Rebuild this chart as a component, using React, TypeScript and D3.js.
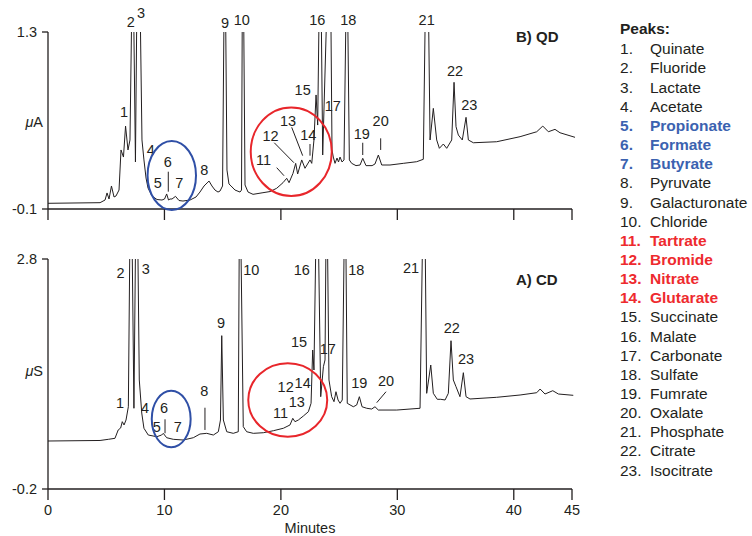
import React from 'react';
import * as d3 from 'd3';

const W = 752;
const H = 536;
const FONT = '"Liberation Sans", Arial, Helvetica, sans-serif';
const INK = '#231f20';
const BLUE = '#3b62b0';
const RED = '#ee2a2e';
const RING_BLUE = '#2f4fa6';
const RING_RED = '#e8262b';

const xTicks = [0, 10, 20, 30, 40, 45];

// B) QD trace: [minutes, µA]  (values above 1.3 run off the top)
const qdTrace: [number, number][] = [
  [0, -0.055], [4.47, -0.05], [4.9, -0.029], [5.07, 0.027], [5.24, -0.021], [5.45, 0.082],
  [5.67, -0.005], [5.84, 0.003], [6.1, 0.05], [6.27, 0.367], [6.48, 0.311], [6.66, 0.556],
  [6.87, 0.367], [7.04, 0.446], [7.21, 1.6], [7.34, 1.6], [7.51, 0.272], [7.64, 1.6],
  [7.9, 1.6], [8.07, 0.446], [8.24, 0.288], [8.42, 0.145], [8.59, 0.066], [8.93, 0.003],
  [9.36, -0.025], [9.79, -0.029], [10.01, -0.021], [10.19, 0.019], [10.35, -0.029],
  [10.48, -0.021], [10.65, -0.021], [10.95, 0.0], [11.25, -0.033], [11.59, -0.037],
  [12.2, -0.029], [12.71, -0.005], [13.05, 0.034], [13.4, 0.082], [13.66, 0.106],
  [13.83, 0.121], [14.08, 0.082], [14.34, 0.05], [14.6, 0.034], [14.77, 0.042],
  [14.99, 0.082], [15.13, 1.6], [15.24, 1.6], [15.37, 0.208], [15.54, 0.098], [15.72, 0.082],
  [16.06, 0.05], [16.49, 0.034], [16.62, 0.05], [16.69, 1.6], [16.79, 1.6], [16.92, 0.09],
  [17.18, 0.034], [17.61, 0.016], [18.46, 0.029], [19.07, 0.038], [19.64, 0.064],
  [20.18, 0.108], [20.5, 0.143], [20.7, 0.108], [21.04, 0.182], [21.27, 0.261],
  [21.44, 0.177], [21.79, 0.288], [22.07, 0.222], [22.5, 0.288], [22.65, 0.261],
  [22.84, 0.446], [23.02, 0.802], [23.16, 0.564], [23.3, 1.6], [23.45, 1.6], [23.59, 0.327],
  [23.98, 1.6], [24.28, 1.6], [24.39, 0.367], [24.5, 0.311], [24.65, 0.261], [24.82, 0.303],
  [24.95, 0.272], [25.08, 0.311], [25.25, 0.272], [25.42, 0.288], [25.61, 1.6], [25.72, 1.6],
  [25.88, 0.288], [26.08, 0.261], [26.45, 0.243], [26.8, 0.248], [27.03, 0.301],
  [27.31, 0.243], [27.83, 0.243], [28.08, 0.256], [28.37, 0.327], [28.66, 0.248],
  [29.37, 0.248], [30.51, 0.261], [31.66, 0.274], [32.23, 0.293], [32.42, 1.6], [32.66, 1.6],
  [32.81, 0.446], [33.09, 0.696], [33.38, 0.446], [33.61, 0.38], [33.95, 0.414],
  [34.24, 0.38], [34.67, 0.446], [34.87, 0.902], [35.04, 0.551], [35.24, 0.485],
  [35.58, 0.446], [35.9, 0.625], [36.1, 0.446], [36.53, 0.424], [38.53, 0.432],
  [40.54, 0.472], [41.97, 0.511], [42.49, 0.556], [42.97, 0.511], [43.54, 0.53],
  [43.97, 0.503], [45.26, 0.467],
];

// A) CD trace: [minutes, µS]  (values above 2.8 run off the top)
const cdTrace: [number, number][] = [
  [0, 0.426], [4.47, 0.433], [5.18, 0.448], [5.75, 0.461], [6.03, 0.57], [6.24, 0.596],
  [6.38, 0.678], [6.53, 0.635], [6.7, 0.7], [6.9, 0.873], [7.04, 3.2], [7.21, 3.2],
  [7.38, 0.853], [7.53, 3.2], [7.7, 3.2], [7.84, 1.222], [8.05, 0.791], [8.24, 0.592],
  [8.61, 0.504], [9.34, 0.482], [9.76, 0.504], [9.9, 0.526], [10.19, 0.469], [10.76, 0.448],
  [11.62, 0.439], [12.48, 0.469], [13.05, 0.517], [13.63, 0.526], [14.2, 0.504],
  [14.63, 0.547], [14.81, 0.7], [14.92, 1.8], [15.06, 0.7], [15.35, 0.547], [15.91, 0.526],
  [16.34, 0.547], [16.43, 3.2], [16.55, 3.2], [16.77, 0.613], [17.06, 0.547], [17.63, 0.526],
  [18.49, 0.534], [19.35, 0.56], [20.21, 0.592], [20.78, 0.635], [21.02, 0.722],
  [21.21, 0.678], [21.5, 0.7], [21.93, 0.752], [22.36, 0.808], [22.59, 0.918],
  [22.73, 1.613], [22.84, 1.352], [23.02, 3.2], [23.21, 3.2], [23.42, 1.004], [23.65, 1.395],
  [23.79, 1.483], [23.88, 3.2], [23.99, 3.2], [24.13, 1.222], [24.36, 1.004], [24.56, 0.939],
  [24.73, 1.069], [24.91, 0.961], [25.08, 0.918], [25.27, 0.961], [25.45, 3.2], [25.57, 3.2],
  [25.7, 0.918], [26.22, 0.873], [26.51, 0.896], [26.74, 1.004], [26.97, 0.873],
  [27.37, 0.853], [27.8, 0.843], [28.08, 0.873], [28.37, 0.83], [29.95, 0.83],
  [31.95, 0.853], [32.18, 3.2], [32.38, 3.2], [32.52, 1.048], [32.87, 1.417], [33.09, 1.048],
  [33.43, 0.97], [33.73, 0.97], [34.1, 0.961], [34.38, 1.048], [34.61, 1.734],
  [34.81, 1.222], [35.04, 1.134], [35.38, 1.004], [35.67, 1.317], [35.9, 1.004],
  [36.24, 0.974], [38.53, 0.996], [40.54, 1.026], [41.97, 1.056], [42.26, 1.104],
  [42.68, 1.039], [43.35, 1.082], [43.83, 1.039], [45.11, 1.022],
];

// peak number labels: [text, minutes, value at baseline]
const qdLabels: [string, number, number][] = [
  ['1', 6.53, 0.63], ['2', 7.1, 1.342], ['3', 7.99, 1.408], ['4', 8.82, 0.327],
  ['5', 9.42, 0.064], ['6', 10.28, 0.235], ['7', 11.28, 0.064], ['8', 13.42, 0.169],
  ['9', 15.2, 1.329], ['10', 16.64, 1.355], ['11', 18.51, 0.248], ['12', 19.11, 0.438],
  ['13', 20.61, 0.556], ['14', 22.36, 0.446], ['15', 21.87, 0.802], ['16', 23.13, 1.355],
  ['17', 24.45, 0.675], ['18', 25.79, 1.355], ['19', 26.94, 0.451], ['20', 28.57, 0.556],
  ['21', 32.52, 1.355], ['22', 34.95, 0.952], ['23', 36.18, 0.683],
];

const cdLabels: [string, number, number][] = [
  ['1', 6.18, 0.853], ['2', 6.24, 2.548], ['3', 8.39, 2.6], ['4', 8.33, 0.795],
  ['5', 9.34, 0.547], ['6', 9.96, 0.795], ['7', 11.14, 0.547], ['8', 13.42, 1.013],
  ['9', 14.86, 1.896], ['10', 17.46, 2.591], ['11', 19.98, 0.722], ['12', 20.41, 1.069],
  ['13', 21.36, 0.873], ['14', 21.87, 1.121], ['15', 21.56, 1.656], ['16', 21.79, 2.591],
  ['17', 24.02, 1.557], ['18', 26.48, 2.591], ['19', 26.74, 1.121], ['20', 29.03, 1.147],
  ['21', 31.17, 2.613], ['22', 34.67, 1.831], ['23', 35.9, 1.426],
];

// leader ticks: [t1, v1, t2, v2]
const qdLeaders: [number, number, number, number][] = [
  [10.33, 0.195, 10.33, 0.037], [19.64, 0.227, 20.27, 0.163], [19.43, 0.424, 21.12, 0.266],
  [20.93, 0.546, 21.87, 0.322], [22.5, 0.414, 22.5, 0.322], [27.03, 0.424, 27.03, 0.327],
  [28.57, 0.459, 28.57, 0.367],
];
const cdLeaders: [number, number, number, number][] = [
  [10.05, 0.709, 10.05, 0.527], [13.48, 0.86, 13.48, 0.57], [29.03, 1.069, 28.23, 0.926],
];

// highlight rings: [color, centre min, centre value, radius min, radius value]
const qdRings: [string, number, number, number, number][] = [
  [RING_BLUE, 10.63, 0.165, 2.08, 0.273],
  [RING_RED, 20.89, 0.353, 3.48, 0.35],
];
const cdRings: [string, number, number, number, number][] = [
  [RING_BLUE, 10.58, 0.713, 1.67, 0.369],
  [RING_RED, 20.59, 0.961, 3.39, 0.479],
];

const peakNames = [
  'Quinate', 'Fluoride', 'Lactate', 'Acetate', 'Propionate', 'Formate', 'Butyrate',
  'Pyruvate', 'Galacturonate', 'Chloride', 'Tartrate', 'Bromide', 'Nitrate', 'Glutarate',
  'Succinate', 'Malate', 'Carbonate', 'Sulfate', 'Fumrate', 'Oxalate', 'Phosphate',
  'Citrate', 'Isocitrate',
];
const bluePeaks = [5, 6, 7];
const redPeaks = [11, 12, 13, 14];

const x = d3.scaleLinear().domain([0, 45]).range([48, 572]);

type PanelProps = {
  id: string;
  y: d3.ScaleLinear<number, number>;
  trace: [number, number][];
  labels: [string, number, number][];
  leaders: [number, number, number, number][];
  rings: [string, number, number, number, number][];
  title: string;
  titleY: number;
  unit: string;
  unitY: number;
  tickLabels: boolean;
};

const Panel = ({ id, y, trace, labels, leaders, rings, title, titleY, unit, unitY, tickLabels }: PanelProps) => {
  const [y0, y1] = y.domain();
  const base = y(y0);
  const top = y(y1);
  const line = d3.line<[number, number]>().x(d => x(d[0])).y(d => y(d[1]));
  return (
    <g>
      <defs>
        <clipPath id={id}>
          <rect x={x(0)} y={top} width={x(45) - x(0) + 8} height={base - top} />
        </clipPath>
      </defs>
      {/* axes */}
      <line x1={x(0)} x2={x(0)} y1={top} y2={base} stroke={INK} strokeWidth={1.3} />
      <line x1={x(0)} x2={x(45)} y1={base} y2={base} stroke={INK} strokeWidth={1.3} />
      {xTicks.map(t => (
        <g key={t}>
          <line x1={x(t)} x2={x(t)} y1={base} y2={base + 11} stroke={INK} strokeWidth={1.3} />
          {tickLabels && (
            <text x={x(t)} y={base + 26} textAnchor="middle" fontSize={14.5}>{t}</text>
          )}
        </g>
      ))}
      {[y0, y1].map(v => (
        <g key={v}>
          <line x1={x(0) - 6} x2={x(0)} y1={y(v)} y2={y(v)} stroke={INK} strokeWidth={1.3} />
          <text x={37} y={y(v) + 5} textAnchor="end" fontSize={14.5}>{v}</text>
        </g>
      ))}
      <text x={43} y={unitY} textAnchor="end" fontSize={14.5}>
        <tspan fontStyle="italic">μ</tspan>{unit}
      </text>
      <text x={516} y={titleY} fontSize={15} fontWeight="bold">{title}</text>

      <path d={line(trace) ?? ''} fill="none" stroke={INK} strokeWidth={1} clipPath={`url(#${id})`} />

      {leaders.map((l, i) => (
        <line key={i} x1={x(l[0])} y1={y(l[1])} x2={x(l[2])} y2={y(l[3])} stroke={INK} strokeWidth={1} />
      ))}
      {labels.map(([s, t, v]) => (
        <text key={s} x={x(t)} y={y(v)} textAnchor="middle" fontSize={14.5}>{s}</text>
      ))}
      {rings.map(([c, t, v, rt, rv], i) => (
        <ellipse key={i} cx={x(t)} cy={y(v)} rx={x(rt) - x(0)} ry={y(0) - y(rv)}
          fill="none" stroke={c} strokeWidth={2} />
      ))}
    </g>
  );
};

export default function App() {
  const yQD = d3.scaleLinear().domain([-0.1, 1.3]).range([209, 32]);
  const yCD = d3.scaleLinear().domain([-0.2, 2.8]).range([489, 259]);
  return (
    <svg width={W} height={H} style={{ position: 'absolute', left: 0, top: 0, background: '#fff' }}
      fontFamily={FONT} fill={INK}>
      <Panel id="clip-qd" y={yQD} trace={qdTrace} labels={qdLabels} leaders={qdLeaders}
        rings={qdRings} title="B) QD" titleY={42} unit="A" unitY={127} tickLabels={false} />
      <Panel id="clip-cd" y={yCD} trace={cdTrace} labels={cdLabels} leaders={cdLeaders}
        rings={cdRings} title="A) CD" titleY={285} unit="S" unitY={376} tickLabels={true} />
      <text x={x(22.5)} y={533} textAnchor="middle" fontSize={14.5}>Minutes</text>

      {/* peak legend */}
      <text x={620} y={34} fontSize={15.5} fontWeight="bold">Peaks:</text>
      {peakNames.map((name, i) => {
        const n = i + 1;
        const color = bluePeaks.includes(n) ? BLUE : redPeaks.includes(n) ? RED : INK;
        const bold = color !== INK;
        const yy = 54.3 + i * 19.15;
        return (
          <g key={name} fill={color} fontWeight={bold ? 'bold' : 'normal'} fontSize={15.5}>
            <text x={620} y={yy}>{n}.</text>
            <text x={650} y={yy}>{name}</text>
          </g>
        );
      })}
    </svg>
  );
}
